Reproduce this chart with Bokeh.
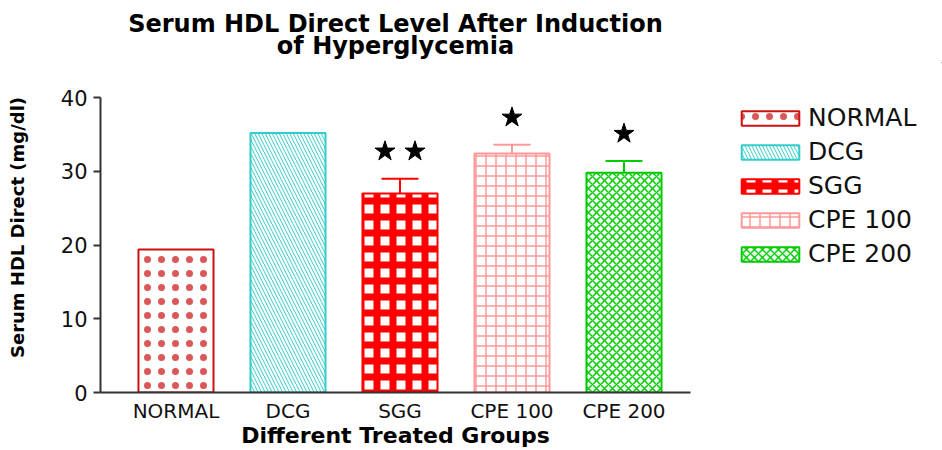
from bokeh.plotting import figure
from bokeh.layouts import row
from bokeh.models import Range1d, FixedTicker, Legend, LegendItem, Title
from bokeh.embed import file_html
from bokeh.resources import INLINE

# ---- data ----
groups = ["NORMAL", "DCG", "SGG", "CPE 100", "CPE 200"]
hdl_mean = [19.4, 35.2, 27.0, 32.4, 29.8]
hdl_err = [0.0, 0.0, 2.0, 1.2, 1.6]
sig_stars = [0, 0, 2, 1, 1]
y_ticks = [0, 10, 20, 30, 40]
title_lines = ["Serum HDL Direct Level After Induction", "of Hyperglycemia"]

# ---- styles ----
line_colors = ["#cc1111", "#33cccc", "#ff0000", "#ff9999", "#00cc00"]
hatch_patterns = ["dot", "left_diagonal_line", "cross", "cross", "diagonal_cross"]
hatch_scales = [14, 7, 16, 10, 8]
hatch_weights = [0.5, 1.0, 7, 1.5, 1.5]
hatch_alphas = [0.7, 1.0, 1.0, 1.0, 1.0]

FONT = "DejaVu Sans"
xs = list(range(len(groups)))
PX_PER_X = 112.0
PX_PER_Y = 7.375
X0, X1 = -0.674, 4.594

W_MAIN, W_LEG, H = 700, 242, 450
LEFT, RIGHT, TOP, BOTTOM = 100, 10, 62, 58
frame_w, frame_h = W_MAIN - LEFT - RIGHT, H - TOP - BOTTOM

p = figure(width=W_MAIN, height=H, output_backend="svg", toolbar_location=None,
           x_range=Range1d(X0, X0 + frame_w / PX_PER_X),
           y_range=Range1d(0, frame_h / PX_PER_Y),
           min_border_left=LEFT, min_border_right=RIGHT, min_border_top=TOP,
           min_border_bottom=BOTTOM, title=None)
p.outline_line_color = None
p.xgrid.visible = False
p.ygrid.visible = False

t2 = Title(text=title_lines[1], align="center", vertical_align="bottom", standoff=5,
           text_font=FONT, text_font_size="24px", text_font_style="bold", text_color="#000000")
t1 = Title(text=title_lines[0], align="center", vertical_align="bottom", standoff=-21,
           text_font=FONT, text_font_size="24px", text_font_style="bold", text_color="#000000")
p.add_layout(t2, "above")
p.add_layout(t1, "above")

# legend panel (a second plot beside the chart; its glyphs lie outside its ranges)
p_leg = figure(width=W_LEG, height=H, output_backend="svg", toolbar_location=None,
               x_range=Range1d(-1001, -1000), y_range=Range1d(-1001, -1000),
               min_border_left=0, min_border_right=0, min_border_top=TOP,
               min_border_bottom=BOTTOM, x_axis_type=None, y_axis_type=None, title=None)
p_leg.outline_line_color = None
p_leg.xgrid.visible = False
p_leg.ygrid.visible = False

items = []
for i, g in enumerate(groups):
    style = dict(fill_color="white", line_color=line_colors[i], line_width=2,
                 hatch_pattern=hatch_patterns[i], hatch_color=line_colors[i],
                 hatch_scale=hatch_scales[i], hatch_weight=hatch_weights[i],
                 hatch_alpha=hatch_alphas[i])
    p.vbar(x=[xs[i]], top=[hdl_mean[i]], width=0.67, bottom=0, **style)
    r_leg = p_leg.vbar(x=[xs[i]], top=[hdl_mean[i]], width=0.67, bottom=0, **style)
    items.append(LegendItem(label=g, renderers=[r_leg]))

# error bars (upper only)
ex, ey0, ey1, ec = [], [], [], []
for i, (m, e) in enumerate(zip(hdl_mean, hdl_err)):
    if e > 0:
        ex.append(xs[i]); ey0.append(m); ey1.append(m + e); ec.append(line_colors[i])
p.segment(x0=ex, y0=ey0, x1=ex, y1=ey1, line_color=ec, line_width=2)
p.segment(x0=[x - 0.165 for x in ex], y0=ey1, x1=[x + 0.165 for x in ex], y1=ey1,
          line_color=ec, line_width=2)

# significance stars
sx, sy = [], []
for i, n in enumerate(sig_stars):
    top = hdl_mean[i] + hdl_err[i] + 3.7
    if n == 1:
        sx.append(xs[i]); sy.append(top)
    elif n == 2:
        sx += [xs[i] - 0.134, xs[i] + 0.134]; sy += [top, top]
p.scatter(x=sx, y=sy, marker="star", size=21, fill_color="black", line_color="black")

# axes
yax = p.yaxis[0]
yax.bounds = (y_ticks[0], y_ticks[-1])
yax.ticker = FixedTicker(ticks=y_ticks)
yax.axis_label = "Serum HDL Direct (mg/dl)"
yax.axis_label_text_font = FONT
yax.axis_label_text_font_style = "bold"
yax.axis_label_text_font_size = "18px"
yax.axis_label_text_color = "#000000"
yax.axis_label_standoff = 30
yax.major_label_text_font = FONT
yax.major_label_text_font_size = "21px"
yax.major_label_text_color = "#111111"
yax.major_label_standoff = 6
yax.axis_line_color = "#333333"
yax.axis_line_width = 2
yax.major_tick_line_color = "#333333"
yax.major_tick_line_width = 2
yax.major_tick_out = 7
yax.major_tick_in = 0
yax.minor_tick_line_color = None

xax = p.xaxis[0]
xax.bounds = (X0, X1)
xax.ticker = FixedTicker(ticks=xs)
xax.major_label_overrides = {i: g for i, g in zip(xs, groups)}
xax.axis_label = "Different Treated Groups"
xax.axis_label_text_font = FONT
xax.axis_label_text_font_style = "bold"
xax.axis_label_text_font_size = "22px"
xax.axis_label_text_color = "#000000"
xax.axis_label_standoff = -3
xax.major_label_text_font = FONT
xax.major_label_text_font_size = "20px"
xax.major_label_text_color = "#111111"
xax.major_label_standoff = 6
xax.axis_line_color = "#333333"
xax.axis_line_width = 2
xax.major_tick_out = 0
xax.major_tick_in = 0
xax.minor_tick_line_color = None

legend = Legend(items=items, location=(34, 124), padding=0, margin=0,
                border_line_alpha=0, background_fill_alpha=0,
                glyph_width=72, glyph_height=18, label_standoff=2, spacing=5,
                label_text_font=FONT, label_text_font_size="25px",
                label_text_color="#111111", label_height=20)
p_leg.add_layout(legend, "center")

layout = row(p, p_leg, spacing=0)
open("out.html", "w").write(file_html(layout, INLINE))
